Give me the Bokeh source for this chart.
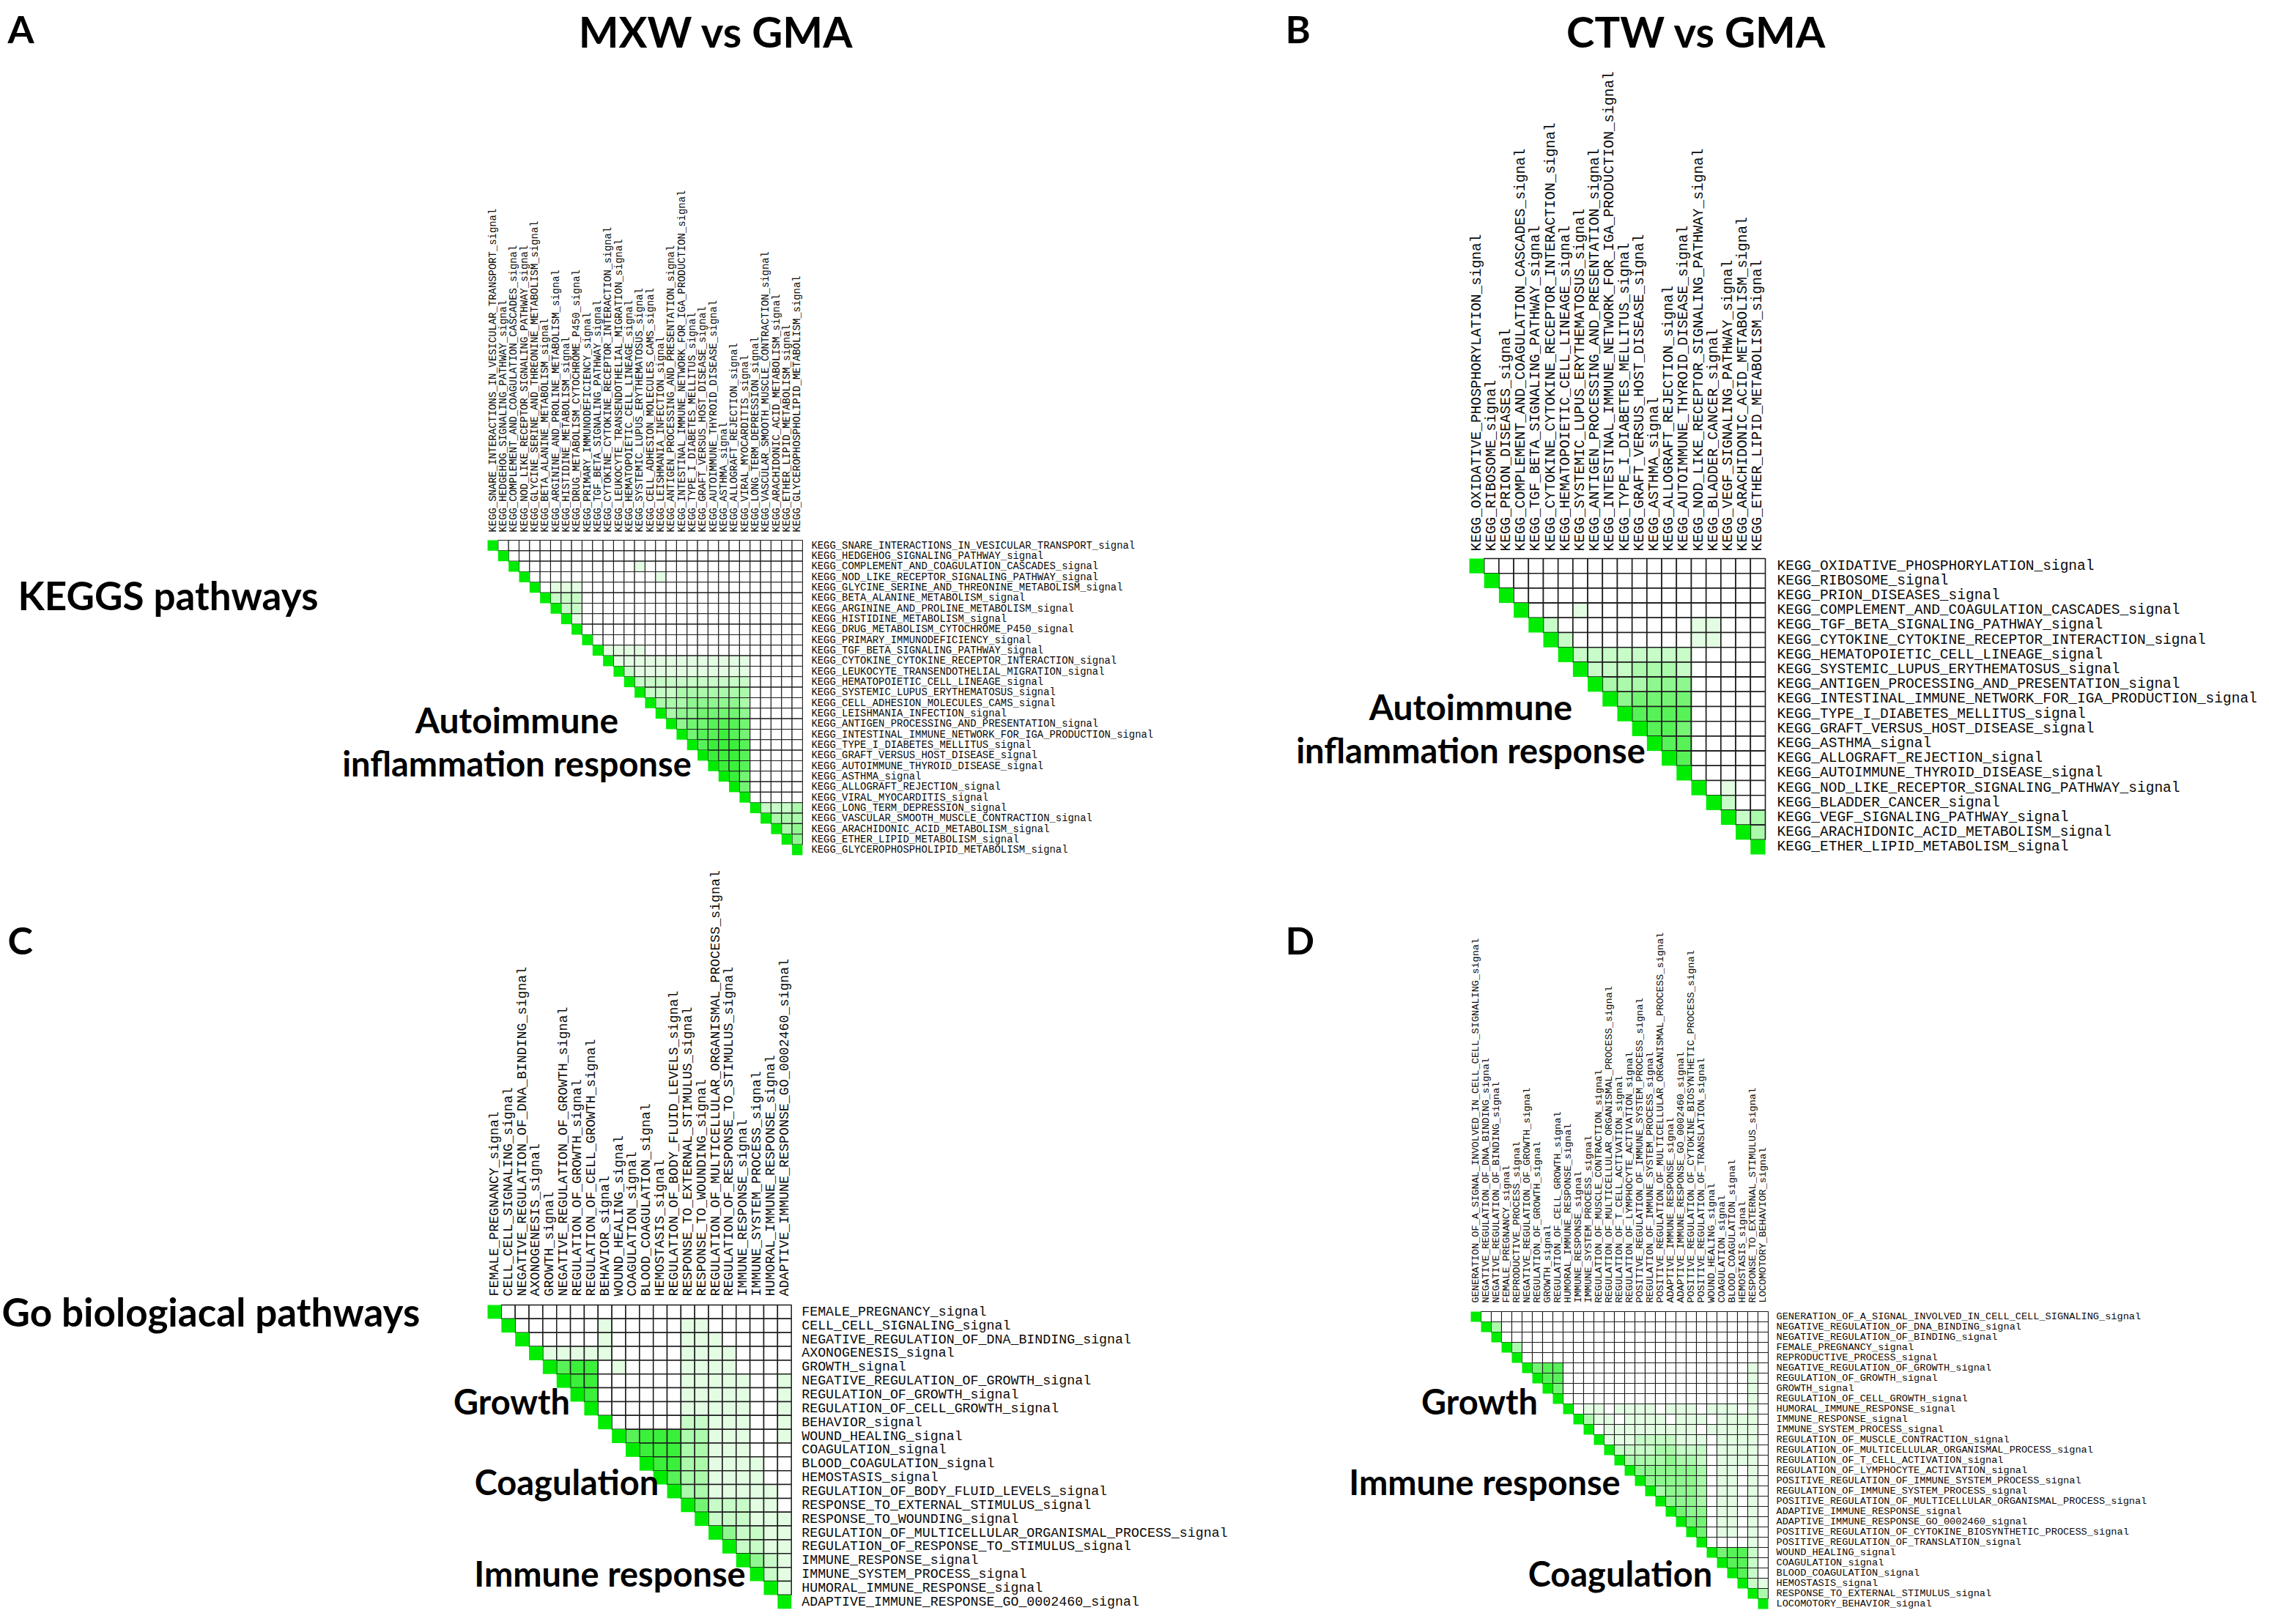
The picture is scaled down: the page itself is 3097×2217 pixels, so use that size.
import math
from bokeh.plotting import figure
from bokeh.models import Range1d
from bokeh.core.properties import value
from bokeh.embed import file_html
from bokeh.resources import INLINE

# ---------------- data ----------------
labels_A = [
    "KEGG_SNARE_INTERACTIONS_IN_VESICULAR_TRANSPORT_signal",
    "KEGG_HEDGEHOG_SIGNALING_PATHWAY_signal",
    "KEGG_COMPLEMENT_AND_COAGULATION_CASCADES_signal",
    "KEGG_NOD_LIKE_RECEPTOR_SIGNALING_PATHWAY_signal",
    "KEGG_GLYCINE_SERINE_AND_THREONINE_METABOLISM_signal",
    "KEGG_BETA_ALANINE_METABOLISM_signal",
    "KEGG_ARGININE_AND_PROLINE_METABOLISM_signal",
    "KEGG_HISTIDINE_METABOLISM_signal",
    "KEGG_DRUG_METABOLISM_CYTOCHROME_P450_signal",
    "KEGG_PRIMARY_IMMUNODEFICIENCY_signal",
    "KEGG_TGF_BETA_SIGNALING_PATHWAY_signal",
    "KEGG_CYTOKINE_CYTOKINE_RECEPTOR_INTERACTION_signal",
    "KEGG_LEUKOCYTE_TRANSENDOTHELIAL_MIGRATION_signal",
    "KEGG_HEMATOPOIETIC_CELL_LINEAGE_signal",
    "KEGG_SYSTEMIC_LUPUS_ERYTHEMATOSUS_signal",
    "KEGG_CELL_ADHESION_MOLECULES_CAMS_signal",
    "KEGG_LEISHMANIA_INFECTION_signal",
    "KEGG_ANTIGEN_PROCESSING_AND_PRESENTATION_signal",
    "KEGG_INTESTINAL_IMMUNE_NETWORK_FOR_IGA_PRODUCTION_signal",
    "KEGG_TYPE_I_DIABETES_MELLITUS_signal",
    "KEGG_GRAFT_VERSUS_HOST_DISEASE_signal",
    "KEGG_AUTOIMMUNE_THYROID_DISEASE_signal",
    "KEGG_ASTHMA_signal",
    "KEGG_ALLOGRAFT_REJECTION_signal",
    "KEGG_VIRAL_MYOCARDITIS_signal",
    "KEGG_LONG_TERM_DEPRESSION_signal",
    "KEGG_VASCULAR_SMOOTH_MUSCLE_CONTRACTION_signal",
    "KEGG_ARACHIDONIC_ACID_METABOLISM_signal",
    "KEGG_ETHER_LIPID_METABOLISM_signal",
    "KEGG_GLYCEROPHOSPHOLIPID_METABOLISM_signal",
]
# upper-triangle shading levels (0-9), row i lists columns i+1 .. n-1
levels_A = [
    "00000000000000000000000000000",
    "0000000000000000000000000000",
    "000000000001000000000000000",
    "00000000000010000000000000",
    "0111000000000000000000000",
    "222000000000000000000000",
    "22000000000000000000000",
    "1000000000000000000000",
    "000000000000000000000",
    "00000000000000000000",
    "1111000000000000000",
    "111111111111100000",
    "21111111111100000",
    "2222222222200000",
    "222333333300000",
    "33344444300000",
    "3445555400000",
    "455666500000",
    "56676500000",
    "6777600000",
    "777600000",
    "77600000",
    "7500000",
    "500000",
    "00000",
    "2223",
    "333",
    "34",
    "4",
    "",
]

labels_B = [
    "KEGG_OXIDATIVE_PHOSPHORYLATION_signal",
    "KEGG_RIBOSOME_signal",
    "KEGG_PRION_DISEASES_signal",
    "KEGG_COMPLEMENT_AND_COAGULATION_CASCADES_signal",
    "KEGG_TGF_BETA_SIGNALING_PATHWAY_signal",
    "KEGG_CYTOKINE_CYTOKINE_RECEPTOR_INTERACTION_signal",
    "KEGG_HEMATOPOIETIC_CELL_LINEAGE_signal",
    "KEGG_SYSTEMIC_LUPUS_ERYTHEMATOSUS_signal",
    "KEGG_ANTIGEN_PROCESSING_AND_PRESENTATION_signal",
    "KEGG_INTESTINAL_IMMUNE_NETWORK_FOR_IGA_PRODUCTION_signal",
    "KEGG_TYPE_I_DIABETES_MELLITUS_signal",
    "KEGG_GRAFT_VERSUS_HOST_DISEASE_signal",
    "KEGG_ASTHMA_signal",
    "KEGG_ALLOGRAFT_REJECTION_signal",
    "KEGG_AUTOIMMUNE_THYROID_DISEASE_signal",
    "KEGG_NOD_LIKE_RECEPTOR_SIGNALING_PATHWAY_signal",
    "KEGG_BLADDER_CANCER_signal",
    "KEGG_VEGF_SIGNALING_PATHWAY_signal",
    "KEGG_ARACHIDONIC_ACID_METABOLISM_signal",
    "KEGG_ETHER_LIPID_METABOLISM_signal",
]
levels_B = [
    "0000000000000000000",
    "000000000000000000",
    "00000000000000000",
    "0001000000000000",
    "200000000011000",
    "20000000011000",
    "2222222200000",
    "222333200000",
    "33344400000",
    "4555500000",
    "666600000",
    "66500000",
    "6600000",
    "600000",
    "00000",
    "0100",
    "200",
    "23",
    "3",
    "",
]

labels_C = [
    "FEMALE_PREGNANCY_signal",
    "CELL_CELL_SIGNALING_signal",
    "NEGATIVE_REGULATION_OF_DNA_BINDING_signal",
    "AXONOGENESIS_signal",
    "GROWTH_signal",
    "NEGATIVE_REGULATION_OF_GROWTH_signal",
    "REGULATION_OF_GROWTH_signal",
    "REGULATION_OF_CELL_GROWTH_signal",
    "BEHAVIOR_signal",
    "WOUND_HEALING_signal",
    "COAGULATION_signal",
    "BLOOD_COAGULATION_signal",
    "HEMOSTASIS_signal",
    "REGULATION_OF_BODY_FLUID_LEVELS_signal",
    "RESPONSE_TO_EXTERNAL_STIMULUS_signal",
    "RESPONSE_TO_WOUNDING_signal",
    "REGULATION_OF_MULTICELLULAR_ORGANISMAL_PROCESS_signal",
    "REGULATION_OF_RESPONSE_TO_STIMULUS_signal",
    "IMMUNE_RESPONSE_signal",
    "IMMUNE_SYSTEM_PROCESS_signal",
    "HUMORAL_IMMUNE_RESPONSE_signal",
    "ADAPTIVE_IMMUNE_RESPONSE_GO_0002460_signal",
]
levels_C = [
    "000000000000000000000",
    "00000010000011000000",
    "0000010000011100000",
    "111110000011110000",
    "67701000011110000",
    "7700000011111001",
    "700000011111001",
    "00000011111001",
    "0000022111001",
    "677733111001",
    "77733111000",
    "7733111100",
    "633111100",
    "33111110",
    "5222110",
    "222111",
    "42211",
    "2211",
    "421",
    "21",
    "1",
    "",
]

labels_D = [
    "GENERATION_OF_A_SIGNAL_INVOLVED_IN_CELL_CELL_SIGNALING_signal",
    "NEGATIVE_REGULATION_OF_DNA_BINDING_signal",
    "NEGATIVE_REGULATION_OF_BINDING_signal",
    "FEMALE_PREGNANCY_signal",
    "REPRODUCTIVE_PROCESS_signal",
    "NEGATIVE_REGULATION_OF_GROWTH_signal",
    "REGULATION_OF_GROWTH_signal",
    "GROWTH_signal",
    "REGULATION_OF_CELL_GROWTH_signal",
    "HUMORAL_IMMUNE_RESPONSE_signal",
    "IMMUNE_RESPONSE_signal",
    "IMMUNE_SYSTEM_PROCESS_signal",
    "REGULATION_OF_MUSCLE_CONTRACTION_signal",
    "REGULATION_OF_MULTICELLULAR_ORGANISMAL_PROCESS_signal",
    "REGULATION_OF_T_CELL_ACTIVATION_signal",
    "REGULATION_OF_LYMPHOCYTE_ACTIVATION_signal",
    "POSITIVE_REGULATION_OF_IMMUNE_SYSTEM_PROCESS_signal",
    "REGULATION_OF_IMMUNE_SYSTEM_PROCESS_signal",
    "POSITIVE_REGULATION_OF_MULTICELLULAR_ORGANISMAL_PROCESS_signal",
    "ADAPTIVE_IMMUNE_RESPONSE_signal",
    "ADAPTIVE_IMMUNE_RESPONSE_GO_0002460_signal",
    "POSITIVE_REGULATION_OF_CYTOKINE_BIOSYNTHETIC_PROCESS_signal",
    "POSITIVE_REGULATION_OF_TRANSLATION_signal",
    "WOUND_HEALING_signal",
    "COAGULATION_signal",
    "BLOOD_COAGULATION_signal",
    "HEMOSTASIS_signal",
    "RESPONSE_TO_EXTERNAL_STIMULUS_signal",
    "LOCOMOTORY_BEHAVIOR_signal",
]
levels_D = [
    "0000000000000000000000000000",
    "300000000000000000000000000",
    "00000000000000000000000000",
    "3000000000000000000000000",
    "000000000000000000000000",
    "56600000000000000000010",
    "6600000000000000000010",
    "500000000000000000010",
    "00000000000000000010",
    "0110111101110111010",
    "311011110111011110",
    "01111111110111110",
    "1112222111011110",
    "222233222011110",
    "33334332011110",
    "4444443011010",
    "444443011010",
    "34443011010",
    "4443011010",
    "544011010",
    "55011010",
    "5011010",
    "000010",
    "56620",
    "6620",
    "620",
    "21",
    "3",
    "",
]

titles = ["MXW vs GMA", "CTW vs GMA"]
panel_letters = ["A", "B", "C", "D"]
row_titles = ["KEGGS pathways", "Go biologiacal pathways"]

# ---------------- canvas ----------------
W, H = 3080, 2200
p = figure(width=W, height=H, x_range=Range1d(8, 8 + W), y_range=Range1d(8 + H, 8),
           output_backend="svg", toolbar_location=None, min_border=0)
p.axis.visible = False
p.grid.visible = False
p.outline_line_color = None
p.background_fill_color = "white"
p.border_fill_color = "white"

DIAG = (0, 236, 0)


def shade(level):
    t = min(1.0, level * 0.11)
    r = round(255 + (DIAG[0] - 255) * t)
    g = round(255 + (DIAG[1] - 255) * t)
    b = round(255 + (DIAG[2] - 255) * t)
    return "#%02x%02x%02x" % (r, g, b)


MONO = value("Liberation Mono")
SANS = value("Lato")


def draw_panel(labels, levels, x0, y0, cell, font, line_w, row_gap, col_gap):
    n = len(labels)
    ox, oy, oc = [], [], []
    dx, dy = [], []
    for i in range(n):
        s = levels[i]
        dx.append(x0 + (i + 0.5) * cell)
        dy.append(y0 + (i + 0.5) * cell)
        for k, j in enumerate(range(i + 1, n)):
            lvl = int(s[k]) if k < len(s) else 0
            ox.append(x0 + (j + 0.5) * cell)
            oy.append(y0 + (i + 0.5) * cell)
            oc.append(shade(lvl))
    p.rect(ox, oy, width=cell, height=cell, fill_color=oc, line_color="#1c1c1c",
           line_width=line_w)
    p.rect(dx, dy, width=cell, height=cell, fill_color="#%02x%02x%02x" % DIAG,
           line_color=None)
    # row labels (right)
    p.text(x=[x0 + n * cell + row_gap] * n, y=[y0 + (i + 0.5) * cell for i in range(n)],
           text=labels, text_font=MONO, text_font_size="%.1fpx" % font,
           text_align="left", text_baseline="middle", text_color="#0a0a0a")
    # column labels (above, rotated)
    p.text(x=[x0 + (j + 0.5) * cell for j in range(n)], y=[y0 - col_gap] * n,
           text=labels, angle=math.pi / 2, text_font=MONO, text_font_size="%.1fpx" % font,
           text_align="left", text_baseline="middle", text_color="#0a0a0a")


draw_panel(labels_A, levels_A, 673, 745, 14.33, 13.9, 1.1, 12, 11)
draw_panel(labels_B, levels_B, 2013, 770, 20.2, 19.5, 1.6, 16, 10)
draw_panel(labels_C, levels_C, 673, 1789, 18.85, 18.3, 1.5, 14, 12)
draw_panel(labels_D, levels_D, 2015, 1798, 14.0, 13.6, 1.1, 11, 12)


def big(x, y, t, size, align="left"):
    p.text(x=[x], y=[y], text=[t], text_font=SANS, text_font_style="bold",
           text_font_size=size, text_align=align, text_baseline="middle",
           text_color="black")


# panel letters
big(18, 46, panel_letters[0], "52px")
big(1762, 46, panel_letters[1], "52px")
big(18, 1290, panel_letters[2], "52px")
big(1762, 1290, panel_letters[3], "52px")
# titles
big(985, 50, titles[0], "58px", "center")
big(2323, 50, titles[1], "58px", "center")
# row titles
big(32, 820, row_titles[0], "53px")
big(10, 1798, row_titles[1], "53px")
# annotations
for cx, y1, y2 in [(713, 990, 1049), (2015, 972, 1031)]:
    big(cx, y1, "Autoimmune", "48px", "center")
    big(cx, y2, "inflammation response", "47px", "center")
big(706, 1920, "Growth", "47px", "center")
big(781, 2030, "Coagulation", "47px", "center")
big(840, 2155, "Immune response", "47px", "center")
big(2027, 1920, "Growth", "47px", "center")
big(2034, 2030, "Immune response", "47px", "center")
big(2219, 2155, "Coagulation", "47px", "center")

open("out.html", "w").write(file_html(p, INLINE))
